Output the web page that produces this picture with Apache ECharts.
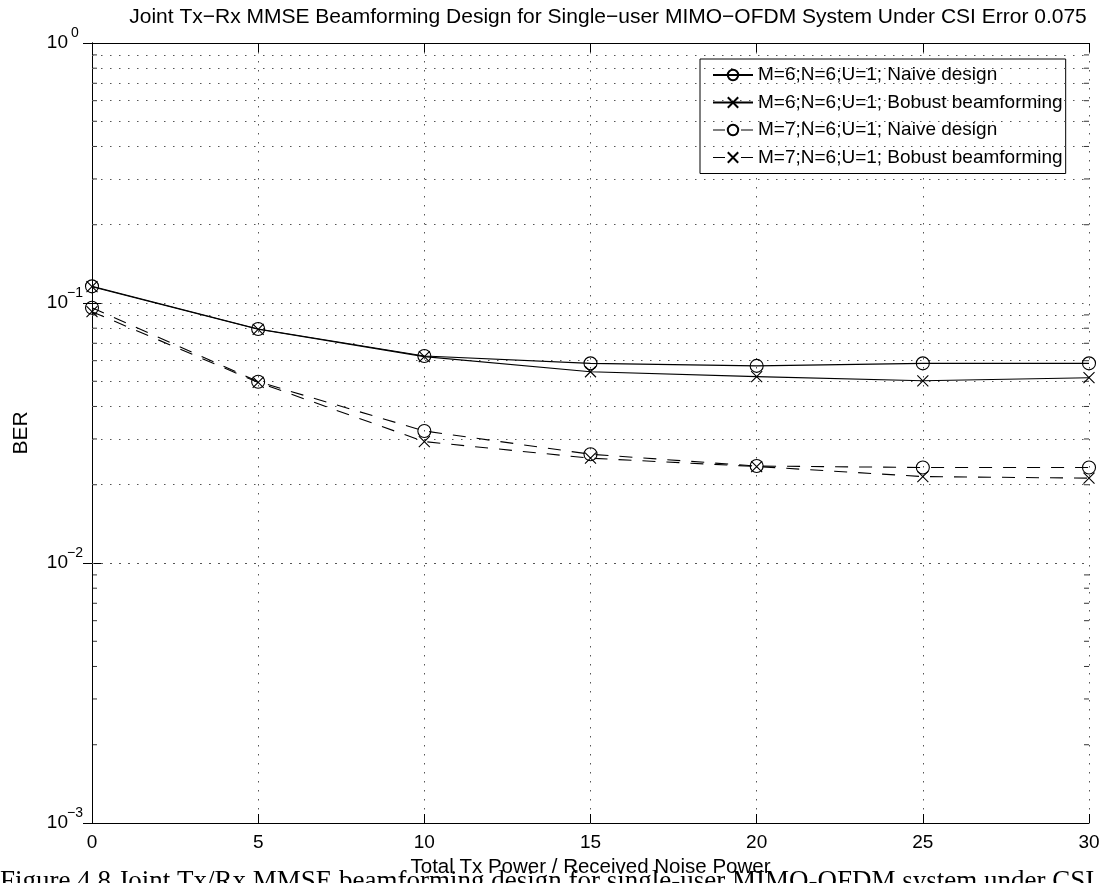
<!DOCTYPE html>
<html>
<head>
<meta charset="utf-8">
<script src="https://cdn.jsdelivr.net/npm/echarts@6/dist/echarts.min.js"></script>
<style>
  html, body { margin: 0; padding: 0; background: #fff; }
  #chart { width: 1112px; height: 883px; }
</style>
</head>
<body>
<div id="chart"></div>
<script>
// 数据
const xValues = [0, 5, 10, 15, 20, 25, 30];
const naiveM6 = [0.1159, 0.0794, 0.0625, 0.0586, 0.0573, 0.0586, 0.0586];
const robustM6 = [0.1155, 0.0792, 0.0622, 0.0544, 0.0521, 0.0502, 0.0516];
const naiveM7 = [0.0959, 0.0498, 0.0322, 0.0262, 0.0236, 0.0233, 0.0233];
const robustM7 = [0.0926, 0.0495, 0.0293, 0.0253, 0.0235, 0.0215, 0.0212];
const seriesNames = [
  "M=6;N=6;U=1; Naive design",
  "M=6;N=6;U=1; Bobust beamforming",
  "M=7;N=6;U=1; Naive design",
  "M=7;N=6;U=1; Bobust beamforming",
];

// log 轴的次刻度 2..9 x 10^k
const minorValues = [];
[-3, -2, -1].forEach((k) => {
  for (let m = 2; m <= 9; m++) minorValues.push(+(m * Math.pow(10, k)).toPrecision(3));
});

const FONT = "Liberation Sans";
const crossPath = "path://M0,0L10,10M10,0L0,10";
const toPairs = (ys) => xValues.map((x, i) => [x, ys[i]]);

const makeLine = (name, ys, symbol, dashed) => ({
  name: name,
  type: "line",
  data: toPairs(ys),
  symbol: symbol,
  symbolSize: symbol === "circle" ? 13 : 11,
  showAllSymbol: true,
  lineStyle: { color: "#000", width: 1.1, type: dashed ? [13, 11] : "solid" },
  itemStyle: { color: "transparent", borderColor: "#000", borderWidth: 1.1 },
  emphasis: { disabled: true },
  z: 5,
});

const expLabel = (v) => {
  const e = Math.round(Math.log10(v));
  return "{b|10}{e|" + (e < 0 ? "\u2212" + -e : e) + "}";
};

// 图例：虚线系列的图例线段也画成虚线
const legendData = seriesNames.map((name, i) =>
  i < 2 ? { name: name } : { name: name, lineStyle: { type: [12, 16], color: "#000", width: 1.1 } }
);

const options = {
  animation: false,
  backgroundColor: "#fff",
  grid: { left: 92, right: 23, top: 43, bottom: 60 },
  legend: {
    data: legendData,
    orient: "vertical",
    left: 700,
    top: 59,
    padding: [6, 3, 6, 12],
    itemGap: 7.5,
    itemWidth: 40,
    itemHeight: 13,
    borderColor: "#000",
    borderWidth: 1,
    backgroundColor: "#fff",
    textStyle: { fontFamily: FONT, fontSize: 19, color: "#000", lineHeight: 20 },
    selectedMode: false,
  },
  xAxis: [
    {
      type: "value",
      min: 0,
      max: 30,
      interval: 5,
      name: "Total Tx Power / Received Noise Power",
      nameLocation: "middle",
      nameGap: 33,
      nameTextStyle: { fontFamily: FONT, fontSize: 20.5, color: "#000", verticalAlign: "top" },
      axisLine: { lineStyle: { color: "#000", width: 1 } },
      axisTick: { inside: true, length: 9, lineStyle: { color: "#000" } },
      axisLabel: { fontFamily: FONT, fontSize: 19, color: "#000", margin: 10 },
      splitLine: { show: true, lineStyle: { color: "#555", type: [1.5, 7.5], width: 1 } },
    },
    {
      type: "value",
      position: "top",
      min: 0,
      max: 30,
      interval: 5,
      axisLine: { show: true, lineStyle: { color: "#000", width: 1 } },
      axisTick: { show: true, inside: true, length: 9, lineStyle: { color: "#000" } },
      axisLabel: { show: false },
      splitLine: { show: false },
    },
  ],
  yAxis: [
    {
      type: "log",
      logBase: 10,
      min: 0.001,
      max: 1,
      name: "BER",
      nameLocation: "middle",
      nameGap: 60,
      nameTextStyle: { fontFamily: FONT, fontSize: 21, color: "#000" },
      axisLine: { show: true, lineStyle: { color: "#000", width: 1 } },
      axisTick: { show: true, inside: true, length: 9, lineStyle: { color: "#000" } },
      axisLabel: {
        margin: 10,
        formatter: expLabel,
        rich: {
          b: { fontFamily: FONT, fontSize: 19, color: "#000", lineHeight: 34 },
          e: { fontFamily: FONT, fontSize: 14, color: "#000", lineHeight: 14, verticalAlign: "top", width: 14, align: "left" },
        },
      },
      splitLine: { show: true, lineStyle: { color: "#555", type: [1.5, 7.5], width: 1 } },
    },
    {
      type: "log",
      logBase: 10,
      min: 0.001,
      max: 1,
      position: "right",
      axisLine: { show: true, lineStyle: { color: "#000", width: 1 } },
      axisTick: { show: true, inside: true, length: 9, lineStyle: { color: "#000" } },
      axisLabel: { show: false },
      splitLine: { show: false },
    },
  ],
  graphic: [
    {
      type: "text",
      x: 608,
      y: 7,
      style: {
        text: "Joint Tx\u2212Rx MMSE Beamforming Design for Single\u2212user MIMO\u2212OFDM System Under CSI Error 0.075",
        font: "21px " + FONT,
        fill: "#000",
        textAlign: "center",
        textVerticalAlign: "top",
      },
    },
    {
      type: "text",
      x: 0,
      y: 868,
      z: -1,
      style: {
        text: "Figure 4.8 Joint Tx/Rx MMSE beamforming design for single-user MIMO-OFDM system under CSI",
        font: "27px Liberation Serif",
        fill: "#000",
        textAlign: "left",
        textVerticalAlign: "top",
      },
    },
  ],
  series: [
    Object.assign(makeLine(seriesNames[0], naiveM6, "circle", false), {
      // 次网格线（水平虚点线）
      markLine: {
        silent: true,
        symbol: "none",
        label: { show: false },
        lineStyle: { color: "#555", type: [1.5, 7.5], width: 1 },
        data: minorValues.map((v) => ({ yAxis: v })),
        animation: false,
      },
    }),
    makeLine(seriesNames[1], robustM6, crossPath, false),
    makeLine(seriesNames[2], naiveM7, "circle", true),
    makeLine(seriesNames[3], robustM7, crossPath, true),
    {
      name: "minorTickLeft",
      type: "scatter",
      data: minorValues.map((v) => [0, v]),
      symbol: "rect",
      symbolSize: [5, 1],
      symbolOffset: [2.5, 0],
      itemStyle: { color: "#000" },
      silent: true,
      clip: false,
      z: 3,
    },
    {
      name: "minorTickRight",
      type: "scatter",
      data: minorValues.map((v) => [30, v]),
      symbol: "rect",
      symbolSize: [5, 1],
      symbolOffset: [-2.5, 0],
      itemStyle: { color: "#000" },
      silent: true,
      clip: false,
      z: 3,
    },
  ],
};

const chart = echarts.init(document.getElementById("chart"));
chart.setOption(options);
window.addEventListener("resize", () => {
  chart.resize();
});
</script>
</body>
</html>
